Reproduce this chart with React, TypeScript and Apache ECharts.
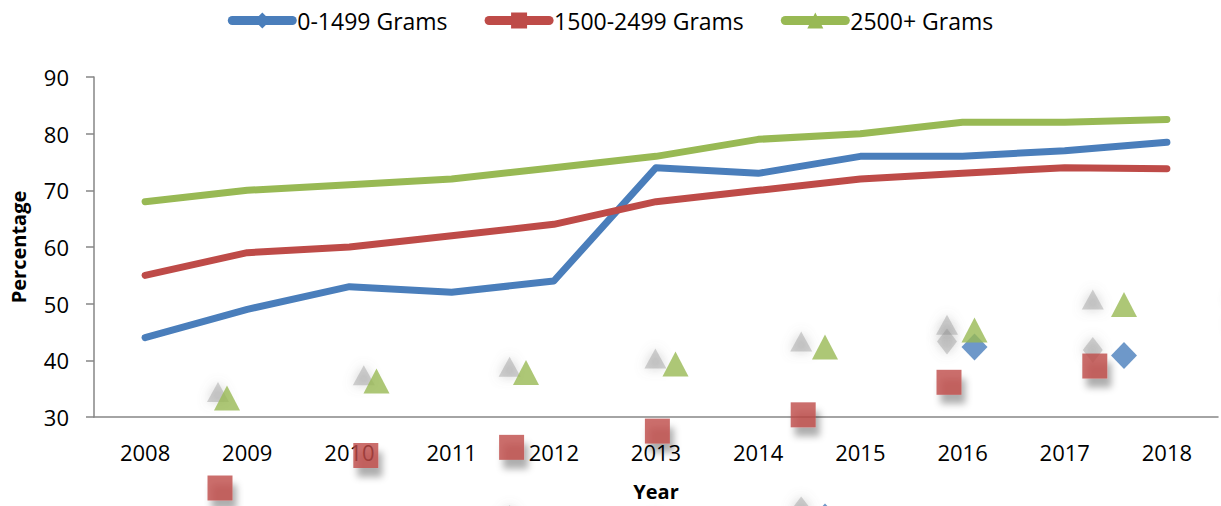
import React, { useEffect, useRef } from "react";
import * as echarts from "echarts";

const years = ["2008", "2009", "2010", "2011", "2012", "2013", "2014", "2015", "2016", "2017", "2018"];
const seriesNames = ["0-1499 Grams", "1500-2499 Grams", "2500+ Grams"];
const lowWeight = [44, 49, 53, 52, 54, 74, 73, 76, 76, 77, 78.5];
const midWeight = [55, 59, 60, 62, 64, 68, 70, 72, 73, 74, 73.8];
const highWeight = [68, 70, 71, 72, 74, 76, 79, 80, 82, 82, 82.5];
const yMin = 30;
const yMax = 90;
const yStep = 10;

const BLUE = "#4A7EBB";
const RED = "#BE4B48";
const GREEN = "#98B954";
const AXIS = "#868686";
const FONT = "'Open Sans', sans-serif";

// Stray-marker layers (rendering artefact of the original): each layer is a
// full-canvas hidden grid whose axis ranges reproduce the displaced scale.
// [xMin, xMax, yMin, yMax] in (category index, value) units.
const layerGreenBlue = [-1.5184, 6.6488, 55.294, 114.82];
const layerRed = [-1.5089, 6.8656, 52.786, 115.02];
const layerGhost = [-1.4952, 6.8793, 54.4286, 114.667];

export default function App() {
  const ref = useRef<HTMLDivElement>(null);
  useEffect(() => {
    if (!ref.current) return;
    const chart = echarts.init(ref.current, undefined, { renderer: "svg" });

    const hiddenX = (g: number, r: number[]) => ({ type: "value", gridIndex: g, show: false, min: r[0], max: r[1] });
    const hiddenY = (g: number, r: number[]) => ({ type: "value", gridIndex: g, show: false, min: r[2], max: r[3] });
    const pts = (arr: number[]) => arr.map((v, i) => [i, v]);

    const lineSeries = (name: string, data: number[], color: string, symbol: string, size: number) => ({
      name,
      type: "line",
      data,
      xAxisIndex: 0,
      yAxisIndex: 0,
      symbol,
      symbolSize: size,
      showSymbol: false,
      z: 5,
      itemStyle: { color },
      lineStyle: { color, width: 7, cap: "round", join: "round" },
    });

    const grayStyle = {
      color: "rgba(135,135,135,0.45)",
      shadowBlur: 12,
      shadowColor: "rgba(120,120,120,0.9)",
    };

    const fullGrid = { left: 0, top: 0, right: 0, bottom: 0 };

    chart.setOption({
      animation: false,
      textStyle: { fontFamily: FONT, color: "#000" },
      legend: {
        data: seriesNames,
        left: "center",
        top: 4,
        itemWidth: 60,
        itemHeight: 20,
        itemGap: 37,
        lineStyle: { width: 9, cap: "round" },
        textStyle: { fontSize: 23, fontFamily: FONT, color: "#000" },
      },
      grid: [{ left: 94, top: 77, width: 1124, height: 343 }, fullGrid, fullGrid, fullGrid],
      xAxis: [
        {
          type: "category",
          data: years,
          gridIndex: 0,
          boundaryGap: true,
          name: "Year",
          nameLocation: "middle",
          nameGap: 64,
          nameTextStyle: { fontSize: 20, fontWeight: "bold", fontFamily: FONT, color: "#000" },
          axisLine: { lineStyle: { color: AXIS, width: 1.5 } },
          axisTick: { show: false },
          axisLabel: { fontSize: 22, color: "#000", margin: 24, fontFamily: FONT },
        },
        hiddenX(1, layerGreenBlue),
        hiddenX(2, layerRed),
        hiddenX(3, layerGhost),
      ],
      yAxis: [
        {
          type: "value",
          gridIndex: 0,
          min: yMin,
          max: yMax,
          interval: yStep,
          name: "Percentage",
          nameLocation: "middle",
          nameGap: 66,
          nameTextStyle: { fontSize: 20, fontWeight: "bold", fontFamily: FONT, color: "#000" },
          axisLine: { show: true, lineStyle: { color: AXIS, width: 1.5 } },
          axisTick: { show: true, length: 8, lineStyle: { color: AXIS, width: 1.5 } },
          splitLine: { show: false },
          axisLabel: { fontSize: 22, color: "#000", margin: 25, fontFamily: FONT },
        },
        hiddenY(1, layerGreenBlue),
        hiddenY(2, layerRed),
        hiddenY(3, layerGhost),
      ],
      series: [
        {
          name: "ghost-high",
          type: "scatter",
          xAxisIndex: 3,
          yAxisIndex: 3,
          data: pts(highWeight),
          symbol: "triangle",
          symbolSize: [22, 20],
          itemStyle: grayStyle,
          clip: false,
          z: 1,
          silent: true,
        },
        {
          name: "ghost-low",
          type: "scatter",
          xAxisIndex: 3,
          yAxisIndex: 3,
          data: pts(lowWeight),
          symbol: "diamond",
          symbolSize: [20, 26],
          itemStyle: grayStyle,
          clip: false,
          z: 1,
          silent: true,
        },
        {
          name: "marker-mid",
          type: "scatter",
          xAxisIndex: 2,
          yAxisIndex: 2,
          data: pts(midWeight),
          symbol: "rect",
          symbolSize: 25,
          itemStyle: {
            color: RED,
            shadowBlur: 7,
            shadowOffsetX: 4,
            shadowOffsetY: 9,
            shadowColor: "rgba(0,0,0,0.4)",
          },
          clip: false,
          z: 2,
          silent: true,
        },
        {
          name: "marker-low",
          type: "scatter",
          xAxisIndex: 1,
          yAxisIndex: 1,
          data: pts(lowWeight),
          symbol: "diamond",
          symbolSize: [26, 27],
          itemStyle: { color: BLUE },
          clip: false,
          z: 3,
          silent: true,
        },
        {
          name: "marker-high",
          type: "scatter",
          xAxisIndex: 1,
          yAxisIndex: 1,
          data: pts(highWeight),
          symbol: "triangle",
          symbolSize: [26, 25],
          itemStyle: { color: GREEN },
          clip: false,
          z: 4,
          silent: true,
        },
        lineSeries(seriesNames[0], lowWeight, BLUE, "diamond", 16),
        lineSeries(seriesNames[1], midWeight, RED, "rect", 18),
        lineSeries(seriesNames[2], highWeight, GREEN, "triangle", 18),
      ],
    });

    return () => chart.dispose();
  }, []);

  return (
    <div
      ref={ref}
      style={{ position: "fixed", left: 0, top: 0, width: 1221, height: 506, background: "#fff" }}
    />
  );
}
